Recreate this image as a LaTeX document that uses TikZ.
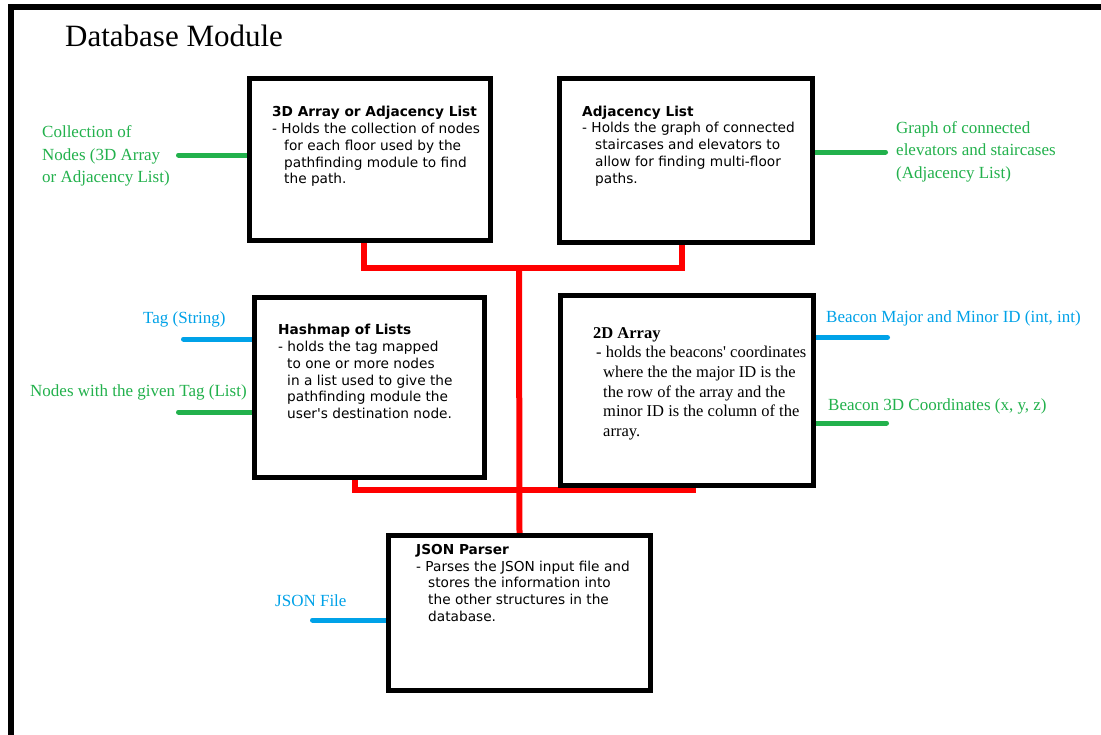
\documentclass[tikz,border=0pt]{standalone}
\usepackage{fontspec}
\setmainfont{Liberation Serif}
\newfontfamily\boxfont{DejaVu Sans}
\definecolor{lblgreen}{HTML}{22B14C}
\definecolor{lblblue}{HTML}{00A2E8}
\definecolor{busred}{HTML}{FF0000}
\begin{document}
\begin{tikzpicture}[x=1pt,y=-1pt,
  box/.style={draw=black, line width=5pt, fill=white, inner sep=0pt},
  sanstext/.style={anchor=north west, inner sep=0pt, align=left,
    font=\boxfont\fontsize{13.7}{16.8}\selectfont},
  seriftext/.style={anchor=north west, inner sep=0pt, align=left,
    font=\fontsize{16.5}{19.7}\selectfont},
  greenlbl/.style={anchor=west, inner sep=0pt, align=left, text=lblgreen,
    font=\fontsize{17}{22.5}\selectfont},
  bluelbl/.style={anchor=west, inner sep=0pt, align=left, text=lblblue,
    font=\fontsize{17}{22.5}\selectfont},
  gline/.style={draw=lblgreen, line width=5pt, line cap=round},
  bline/.style={draw=lblblue, line width=5pt, line cap=round},
  bus/.style={draw=busred, line width=6pt, line join=miter}]
\useasboundingbox (0,0) rectangle (1101,734);
\fill[white] (0,0) rectangle (1101,734);

% outer frame (top and left edges only)
\draw[line width=6pt, line join=miter] (11,740) -- (11,6.5) -- (1107,6.5);

\node[anchor=west, inner sep=0pt, font=\fontsize{31}{36}\selectfont] (title) at (65,35.5) {Database Module};

% box geometry (used for the connectors, drawn on top later)
\path (370,159.5) coordinate (c1) (686,160) coordinate (c2)
      (369.25,387) coordinate (c3) (686.75,390) coordinate (c4)
      (519.5,612.75) coordinate (c5);
\node[box, minimum width=241pt, minimum height=162pt] (b1) at (c1) {};
\node[box, minimum width=253pt, minimum height=164pt] (b2) at (c2) {};
\node[box, minimum width=230.5pt, minimum height=180pt] (b3) at (c3) {};
\node[box, minimum width=252.5pt, minimum height=190pt] (b4) at (c4) {};
\node[box, minimum width=262pt, minimum height=154.5pt] (b5) at (c5) {};

% red bus joining the structures to the parser
\coordinate (jt) at (519,268);
\coordinate (jl) at (519,490);
\draw[bus] ([xshift=-6pt]b1.south) |- (jt);
\draw[bus] ([xshift=-4pt]b2.south) |- (jt);
\draw[bus] ([xshift=-14pt]b3.south) |- (jl);
\draw[bus] ([xshift=6pt]b4.south) |- (jl);
\draw[bus] (jt) -- (b5.north);

% side inputs and outputs
\coordinate (e1) at (178.5,155);
\coordinate (e2) at (885.5,152);
\coordinate (e3) at (183.5,339);
\coordinate (e4) at (178.5,412);
\coordinate (e5) at (887.5,337.5);
\coordinate (e6) at (886.5,423);
\coordinate (e7) at (312.5,620);
\draw[gline] (e1) -- (e1 -| b1.west);
\draw[gline] (e2) -- (e2 -| b2.east);
\draw[bline] (e3) -- (e3 -| b3.west);
\draw[gline] (e4) -- (e4 -| b3.west);
\draw[bline] (e5) -- (e5 -| b4.east);
\draw[gline] (e6) -- (e6 -| b4.east);
\draw[bline] (e7) -- (e7 -| b5.west);

% boxes redrawn over the connector ends
\node[box, minimum width=241pt, minimum height=162pt] at (c1) {};
\node[box, minimum width=253pt, minimum height=164pt] at (c2) {};
\node[box, minimum width=230.5pt, minimum height=180pt] at (c3) {};
\node[box, minimum width=252.5pt, minimum height=190pt] at (c4) {};
\node[box, minimum width=262pt, minimum height=154.5pt] at (c5) {};

% box contents
\node[sanstext] (t1) at (272,106) {\textbf{3D Array or Adjacency List}\\
- Holds the collection of nodes\\
\hspace*{12pt}for each floor used by the\\
\hspace*{12pt}pathfinding module to find\\
\hspace*{12pt}the path.};
\node[sanstext] (t2) at (582,105.5) {\textbf{Adjacency List}\\
- Holds the graph of connected\\
\hspace*{13pt}staircases and elevators to\\
\hspace*{13pt}allow for finding multi-floor\\
\hspace*{13pt}paths.};
\node[sanstext] (t3) at (278,324) {\textbf{Hashmap of Lists}\\
- holds the tag mapped\\
\hspace*{9pt}to one or more nodes\\
\hspace*{9pt}in a list used to give the\\
\hspace*{9pt}pathfinding module the\\
\hspace*{9pt}user\textquotesingle s destination node.};
\node[seriftext] (t4) at (593,327) {\textbf{2D Array}\\
\hspace*{3pt}- holds the beacons\textquotesingle\ coordinates\\
\hspace*{10pt}where the the major ID is the\\
\hspace*{10pt}the row of the array and the\\
\hspace*{10pt}minor ID is the column of the\\
\hspace*{10pt}array.};
\node[sanstext] (t5) at (416,544) {\textbf{JSON Parser}\\
- Parses the JSON input file and\\
\hspace*{12pt}stores the information into\\
\hspace*{12pt}the other structures in the\\
\hspace*{12pt}database.};

% labels
\node[greenlbl] (l1) at (42,156) {Collection of\\Nodes (3D Array\\or Adjacency List)};
\node[greenlbl] (l2) at (896,151.5) {Graph of connected\\elevators and staircases\\(Adjacency List)};
\node[bluelbl] (l3) at (143,319.5) {Tag (String)};
\node[greenlbl] (l4) at (30,392) {Nodes with the given Tag (List)};
\node[bluelbl] (l5) at (826,318) {Beacon Major and Minor ID (int, int)};
\node[greenlbl] (l6) at (828,406) {Beacon 3D Coordinates (x, y, z)};
\node[bluelbl] (l7) at (275,600.5) {JSON File};
\end{tikzpicture}
\end{document}
